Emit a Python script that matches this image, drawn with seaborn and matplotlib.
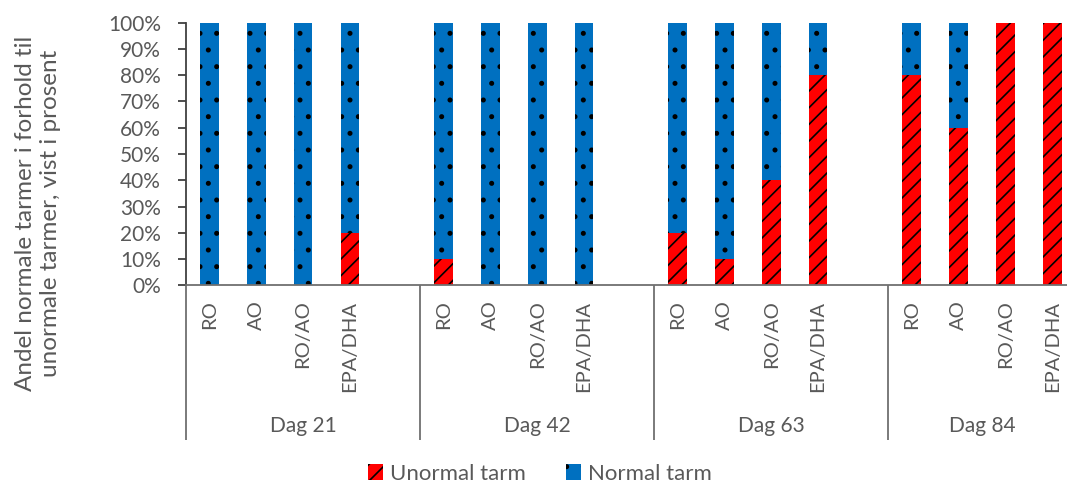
import matplotlib
matplotlib.use("Agg")
import matplotlib.pyplot as plt
from matplotlib.patches import Patch
import numpy as np
import pandas as pd
import seaborn as sns

# Data: share (%) of abnormal intestines per diet group and sampling day
days = ["Dag 21", "Dag 42", "Dag 63", "Dag 84"]
diets = ["RO", "AO", "RO/AO", "EPA/DHA"]
unormal_d21 = [0, 0, 0, 20]
unormal_d42 = [10, 0, 0, 0]
unormal_d63 = [20, 10, 40, 80]
unormal_d84 = [80, 60, 100, 100]
yticks = [0, 10, 20, 30, 40, 50, 60, 70, 80, 90, 100]

series_labels = ["Unormal tarm", "Normal tarm"]
ylabel_text = "Andel normale tarmer i forhold til\nunormale tarmer, vist i prosent"
red = "#FF0000"
blue = "#0070C0"
text_col = "#595959"
line_col = "#6f6f6f"

unormal = [unormal_d21, unormal_d42, unormal_d63, unormal_d84]
rows = []
for g, day in enumerate(days):
    for i, diet in enumerate(diets):
        u = unormal[g][i]
        rows.append({"day": day, "diet": diet, "pos": 5 * g + i,
                     "unormal": u, "normal": 100 - u, "total": 100})
df = pd.DataFrame(rows)

sns.set_theme(style="white")
plt.rcParams["font.family"] = ["Lato", "DejaVu Sans"]
plt.rcParams["hatch.linewidth"] = 1.2
FS = 15

fig = plt.figure(figsize=(10.67, 4.83), dpi=100)
W, H = 1067, 483
left_px, right_px, top_px, bot_px = 186, 1075.6, 22.7, 285.3
ax = fig.add_axes([left_px / W, 1 - bot_px / H,
                   (right_px - left_px) / W, (bot_px - top_px) / H])

# Normal part drawn as the full stack, abnormal part drawn over it
n0 = len(ax.patches)
sns.barplot(data=df, x="pos", y="total", native_scale=True, color=blue,
            saturation=1, width=0.4, errorbar=None, ax=ax,
            edgecolor="black", linewidth=0)
n1 = len(ax.patches)
sns.barplot(data=df, x="pos", y="unormal", native_scale=True, color=red,
            saturation=1, width=0.4, errorbar=None, ax=ax,
            edgecolor="black", linewidth=0)
n2 = len(ax.patches)
for p in ax.patches[n0:n1]:
    p.set_hatch(".")
for p in ax.patches[n1:n2]:
    p.set_hatch("//")

ax.set_xlim(-0.5, 18.5)
ax.set_ylim(0, 100)
ax.set_yticks(yticks)
ax.set_yticklabels([f"{v}%" for v in yticks])
ax.set_xticks(df["pos"].tolist())
ax.set_xticklabels(df["diet"].tolist(), rotation=90, va="top", ha="center")
ax.set_xlabel("")
ax.set_ylabel("")

ax.tick_params(axis="y", length=6, width=1.3, color="#404040",
               labelsize=FS, labelcolor=text_col, pad=12, left=True)
ax.tick_params(axis="x", length=0, labelsize=FS - 0.5, labelcolor=text_col, pad=11)

for s in ["top", "right"]:
    ax.spines[s].set_visible(False)
ax.spines["left"].set_color("#404040")
ax.spines["left"].set_linewidth(1.3)
ax.spines["bottom"].set_color(line_col)
ax.spines["bottom"].set_linewidth(1.3)

# Multi-level category axis: separators and day labels
xtr = ax.get_xaxis_transform()
for xs in [-0.5, 4.5, 9.5, 14.5, 18.5]:
    ax.plot([xs, xs], [0, -0.589], transform=xtr, color=line_col,
            lw=1.3, clip_on=False, solid_capstyle="butt")
group_centers = [2.0, 7.0, 12.0, 16.5]
for xc, day in zip(group_centers, days):
    ax.text(xc, -0.535, day, transform=xtr, ha="center", va="center",
            fontsize=FS, color=text_col)

fig.text(38 / W, 1 - 213 / H, ylabel_text, rotation=90, ha="center",
         va="center", fontsize=17.5, color=text_col, linespacing=1.25,
         multialignment="center")

handles = [Patch(facecolor=red, edgecolor="black", linewidth=0, hatch="//"),
           Patch(facecolor=blue, edgecolor="black", linewidth=0, hatch=".")]
fig.legend(handles, series_labels, loc="center", bbox_to_anchor=(0.506, 0.019),
           ncol=2, frameon=False, fontsize=FS + 1, labelcolor=text_col,
           handlelength=0.7, handleheight=0.7, handletextpad=0.3,
           columnspacing=1.8)

fig.savefig("out.png", dpi=100)
